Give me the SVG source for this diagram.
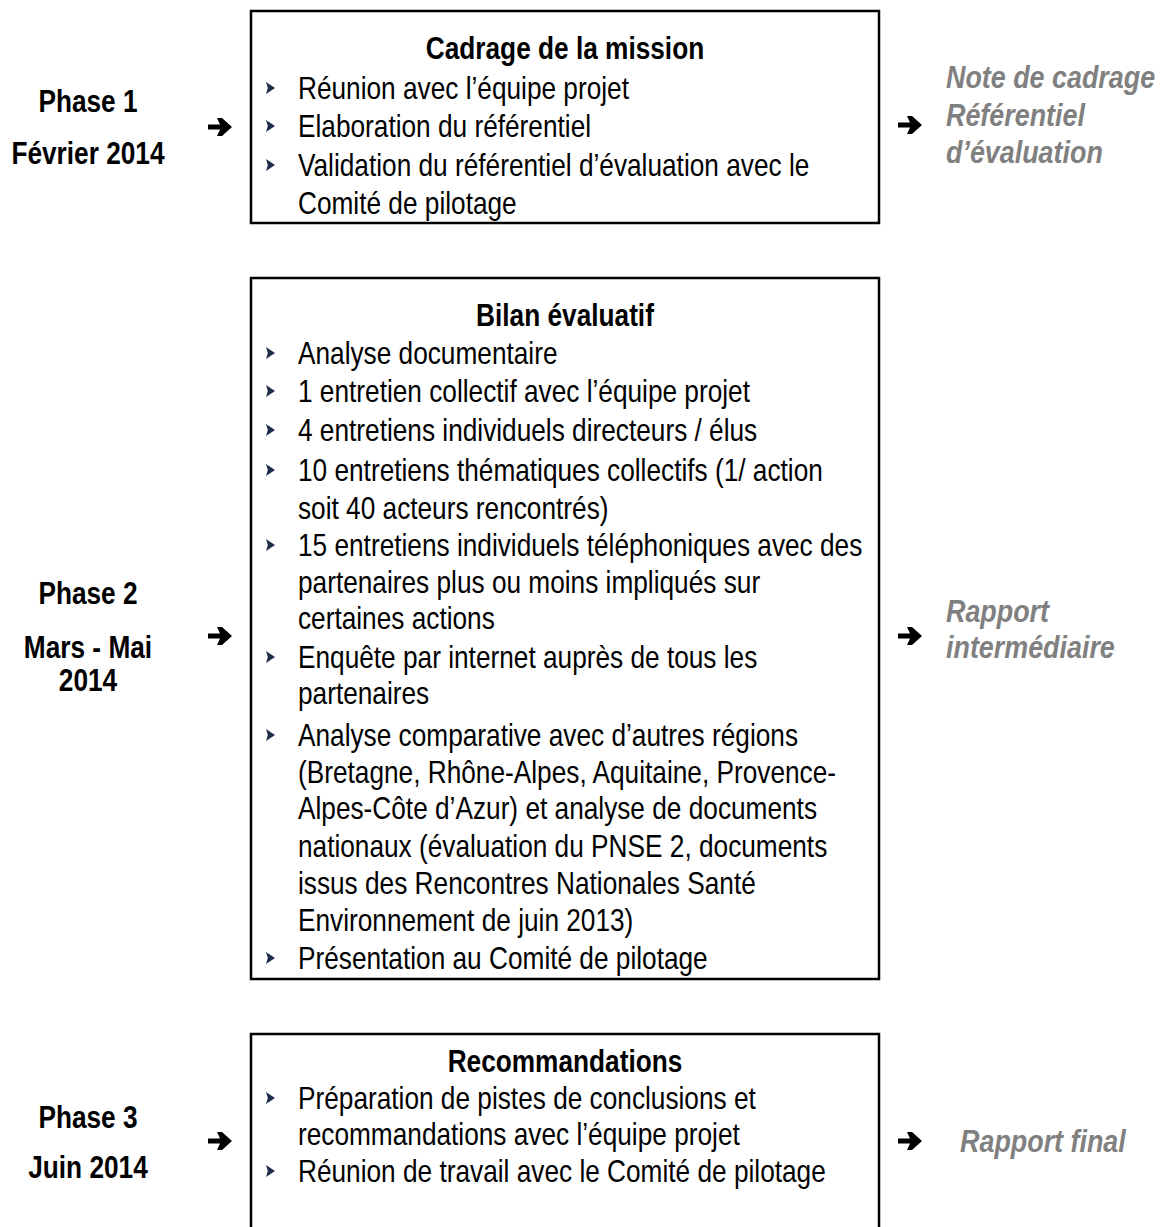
<svg xmlns="http://www.w3.org/2000/svg" width="1166" height="1227" viewBox="0 0 1166 1227">
<style>
text{font-family:"Liberation Sans",Arial,sans-serif;font-size:32px;}
.box{fill:#fff;stroke:#000;stroke-width:2.5;}
.ttl{font-weight:bold;text-anchor:middle;fill:#000;}
.body{fill:#000;}
.ph{font-weight:bold;text-anchor:middle;fill:#000;}
.out{font-weight:bold;font-style:italic;fill:#808080;}
.blt{fill:#1f2d4a;}
</style>
<defs>
<path id="arr" d="M0,-2.5 H12 L9,-9 H14 L24,0 L14,9 H9 L12,2.5 H0 Z" fill="#000"/>
<path id="bul" d="M0,-6 L9,0 L0,6 L1.8,0 Z" class="blt"/>
</defs>
<rect width="1166" height="1227" fill="#fff"/>

<g id="phase1">
<g transform="scale(0.82,1)">
<text class="ph" x="107.3" y="112.5">Phase 1</text>
<text class="ph" x="107.3" y="164.5">Février 2014</text>
</g>
</g>
<g id="box1">
<rect class="box" x="251" y="11" width="628" height="212"/>
<use href="#bul" x="266" y="88"/>
<use href="#bul" x="266" y="126"/>
<use href="#bul" x="266" y="165"/>
<g transform="scale(0.82,1)">
<text class="ttl" x="689" y="59">Cadrage de la mission</text>
<text class="body" x="363.4" y="99.5">Réunion avec l’équipe projet</text>
<text class="body" x="363.4" y="137.5">Elaboration du référentiel</text>
<text class="body" x="363.4" y="176.5">Validation du référentiel d’évaluation avec le</text>
<text class="body" x="363.4" y="214.5">Comité de pilotage</text>
</g>
</g>
<g id="out1">
<g transform="scale(0.84,1)">
<text class="out" x="1126.2" y="88.5">Note de cadrage</text>
<text class="out" x="1126.2" y="126.5">Référentiel</text>
<text class="out" x="1126.2" y="163.5">d’évaluation</text>
</g>
</g>

<g id="phase2">
<g transform="scale(0.82,1)">
<text class="ph" x="107.3" y="604.5">Phase 2</text>
<text class="ph" x="107.3" y="658.5">Mars - Mai</text>
<text class="ph" x="107.3" y="691.5">2014</text>
</g>
</g>
<g id="box2">
<rect class="box" x="251" y="278" width="628" height="701"/>
<use href="#bul" x="266" y="353"/>
<use href="#bul" x="266" y="391"/>
<use href="#bul" x="266" y="430"/>
<use href="#bul" x="266" y="470"/>
<use href="#bul" x="266" y="545"/>
<use href="#bul" x="266" y="657"/>
<use href="#bul" x="266" y="735"/>
<use href="#bul" x="266" y="958"/>
<g transform="scale(0.82,1)">
<text class="ttl" x="689" y="326.5">Bilan évaluatif</text>
<text class="body" x="363.4" y="364.5">Analyse documentaire</text>
<text class="body" x="363.4" y="402.5">1 entretien collectif avec l’équipe projet</text>
<text class="body" x="363.4" y="441.5">4 entretiens individuels directeurs / élus</text>
<text class="body" x="363.4" y="481.5">10 entretiens thématiques collectifs (1/ action</text>
<text class="body" x="363.4" y="519.5">soit 40 acteurs rencontrés)</text>
<text class="body" x="363.4" y="556.5">15 entretiens individuels téléphoniques avec des</text>
<text class="body" x="363.4" y="593.5">partenaires plus ou moins impliqués sur</text>
<text class="body" x="363.4" y="629.5">certaines actions</text>
<text class="body" x="363.4" y="668.5">Enquête par internet auprès de tous les</text>
<text class="body" x="363.4" y="704.5">partenaires</text>
<text class="body" x="363.4" y="746.5">Analyse comparative avec d’autres régions</text>
<text class="body" x="363.4" y="783.5">(Bretagne, Rhône-Alpes, Aquitaine, Provence-</text>
<text class="body" x="363.4" y="819.5">Alpes-Côte d’Azur) et analyse de documents</text>
<text class="body" x="363.4" y="857.5">nationaux (évaluation du PNSE 2, documents</text>
<text class="body" x="363.4" y="894.5">issus des Rencontres Nationales Santé</text>
<text class="body" x="363.4" y="931.5">Environnement de juin 2013)</text>
<text class="body" x="363.4" y="969.5">Présentation au Comité de pilotage</text>
</g>
</g>
<g id="out2">
<g transform="scale(0.84,1)">
<text class="out" x="1126.2" y="622.5">Rapport</text>
<text class="out" x="1126.2" y="658.5">intermédiaire</text>
</g>
</g>

<g id="phase3">
<g transform="scale(0.82,1)">
<text class="ph" x="107.3" y="1128.5">Phase 3</text>
<text class="ph" x="107.3" y="1178.5">Juin 2014</text>
</g>
</g>
<g id="box3">
<rect class="box" x="251" y="1034" width="628" height="220"/>
<use href="#bul" x="266" y="1098"/>
<use href="#bul" x="266" y="1171"/>
<g transform="scale(0.82,1)">
<text class="ttl" x="689" y="1072.5">Recommandations</text>
<text class="body" x="363.4" y="1109.5">Préparation de pistes de conclusions et</text>
<text class="body" x="363.4" y="1145.5">recommandations avec l’équipe projet</text>
<text class="body" x="363.4" y="1182.5">Réunion de travail avec le Comité de pilotage</text>
</g>
</g>
<g id="out3">
<g transform="scale(0.84,1)">
<text class="out" x="1142.9" y="1152.5">Rapport final</text>
</g>
</g>

<g id="connectors">
<use href="#arr" x="208" y="127"/>
<use href="#arr" x="898" y="125"/>
<use href="#arr" x="208" y="636"/>
<use href="#arr" x="898" y="636"/>
<use href="#arr" x="208" y="1141"/>
<use href="#arr" x="898" y="1141"/>
</g>
</svg>
